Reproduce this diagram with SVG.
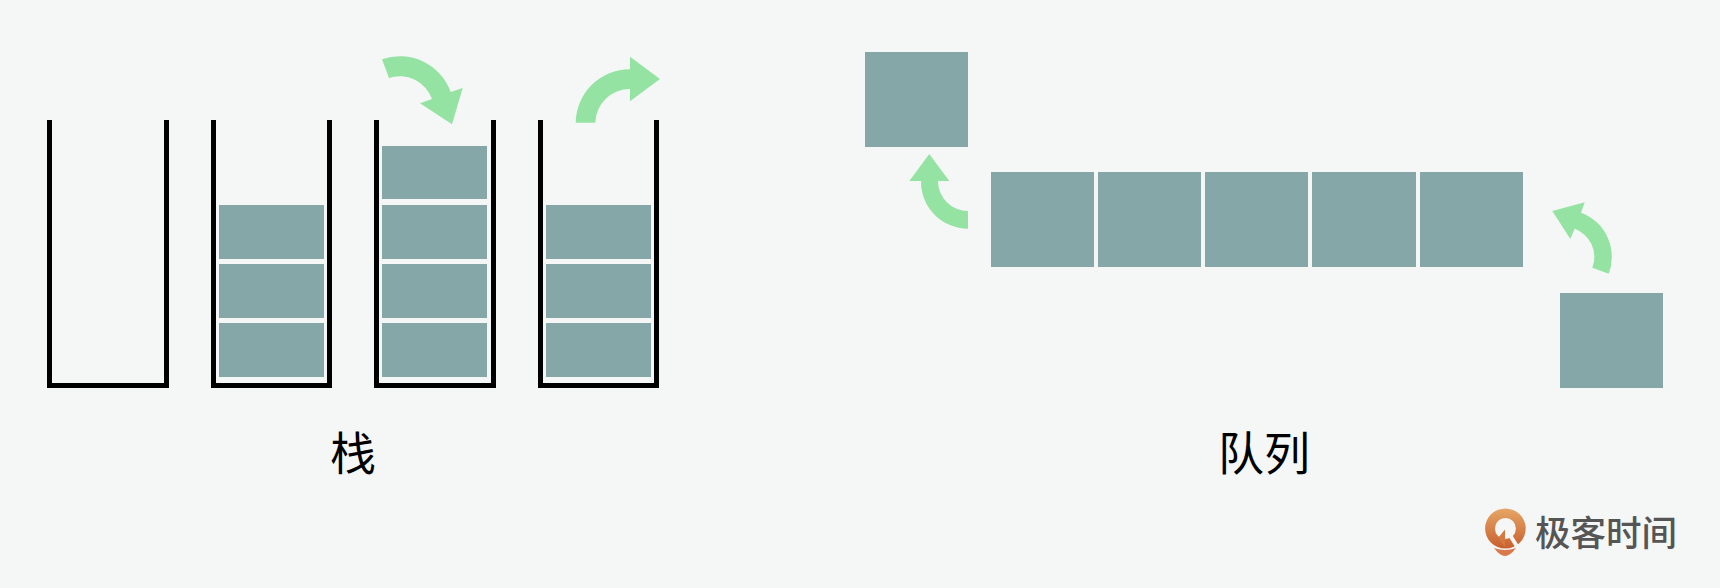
<svg xmlns="http://www.w3.org/2000/svg" width="1720" height="588" viewBox="0 0 1720 588">
<style>
.wall{fill:none;stroke:#000;stroke-width:5}
.b{fill:#85a7a8}
.ar{fill:#95e3a2}
.t{font-family:"Noto Sans CJK SC","Noto Sans",sans-serif;font-size:46px;fill:#000;text-anchor:middle}
.lg{font-family:"Noto Sans CJK SC","Noto Sans",sans-serif;font-size:35.500px;font-weight:500;fill:#555;text-anchor:middle}
</style>
<defs><linearGradient id="g" x1="0" y1="0" x2="0" y2="1"><stop offset="0" stop-color="#e5a666"/><stop offset="1" stop-color="#c95f2e"/></linearGradient></defs>
<rect width="1720" height="588" fill="#f5f7f7"/>
<g id="stack-1"><path class="wall" d="M49.500 120V385.500H166.500V120"/></g>
<g id="stack-2"><path class="wall" d="M213.500 120V385.500H329.500V120"/>
<rect class="b" x="219" y="205" width="105" height="54"/><rect class="b" x="219" y="264" width="105" height="54"/><rect class="b" x="219" y="323" width="105" height="54"/></g>
<g id="stack-3"><path class="wall" d="M376.500 120V385.500H493.500V120"/>
<rect class="b" x="382" y="146" width="105" height="53"/><rect class="b" x="382" y="205" width="105" height="54"/><rect class="b" x="382" y="264" width="105" height="54"/><rect class="b" x="382" y="323" width="105" height="54"/></g>
<g id="stack-4"><path class="wall" d="M540.500 120V385.500H656.500V120"/>
<rect class="b" x="546" y="205" width="105" height="54"/><rect class="b" x="546" y="264" width="105" height="54"/><rect class="b" x="546" y="323" width="105" height="54"/></g>
<g id="queue">
<rect class="b" x="865" y="52" width="103" height="95"/>
<rect class="b" x="991" y="172" width="103" height="95"/><rect class="b" x="1098" y="172" width="103" height="95"/><rect class="b" x="1205" y="172" width="103" height="95"/><rect class="b" x="1312" y="172" width="104" height="95"/><rect class="b" x="1420" y="172" width="103" height="95"/>
<rect class="b" x="1560" y="293" width="103" height="95"/>
</g>
<g id="connectors">
<path class="ar" d="M382 59.300A54 54 0 0 1 450.700 92L462.700 88L452 124.300L420 103.300L432 99A34 34 0 0 0 389 78Z"/>
<path class="ar" d="M575.700 122.700A54 54 0 0 1 630 69.300V56.700L660 79L630 101.300V89A34.500 34.500 0 0 0 595.300 122.700Z"/>
<path class="ar" d="M968 211A30 30 0 0 1 938 181H949.300L929.300 154L909.300 181H921A47 47 0 0 0 968 228.700Z"/>
<path class="ar" d="M1608.700 273.700A47 47 0 0 0 1581 212.700L1584.700 202.300L1552.300 211L1570.300 239L1574.700 228.700A30 30 0 0 1 1592.300 267.700Z"/>
</g>
<g id="labels">
<text class="t" x="353" y="470">栈</text>
<text class="t" x="1264" y="470">队列</text>
</g>
<g id="logo">
<path d="M1505.400 508.500A20.300 20 0 0 1 1505.400 548.500A20.300 20 0 0 1 1505.400 508.500ZM1505.400 518A10.500 10.500 0 0 0 1505.400 539A10.500 10.500 0 0 0 1505.400 518Z" fill="url(#g)" fill-rule="evenodd"/>
<path d="M1505 529.500L1498 538L1505 547Z" fill="#d5793f"/>
<path d="M1510.500 536L1518 548" fill="none" stroke="#f5f7f7" stroke-width="4"/>
<path d="M1494 548Q1505 552 1516 548Q1510 556 1505 556Q1500 556 1494 548Z" fill="#d9784a"/>
<text class="lg" x="1606" y="546">极客时间</text>
</g>
</svg>
